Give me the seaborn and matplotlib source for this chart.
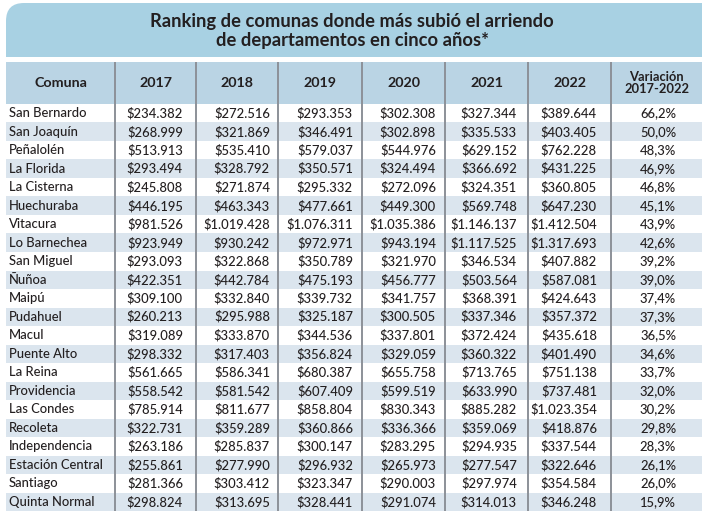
import numpy as np
import matplotlib
matplotlib.use("Agg")
import matplotlib.pyplot as plt
from matplotlib.colors import ListedColormap
from matplotlib.patches import FancyBboxPatch, Rectangle
from matplotlib.transforms import blended_transform_factory
import seaborn as sns

comunas = ["San Bernardo", "San Joaquín", "Peñalolén", "La Florida", "La Cisterna",
           "Huechuraba", "Vitacura", "Lo Barnechea", "San Miguel", "Ñuñoa", "Maipú",
           "Pudahuel", "Macul", "Puente Alto", "La Reina", "Providencia", "Las Condes",
           "Recoleta", "Independencia", "Estación Central", "Santiago", "Quinta Normal"]
v2017 = [234382, 268999, 513913, 293494, 245808, 446195, 981526, 923949, 293093, 422351, 309100,
         260213, 319089, 298332, 561665, 558542, 785914, 322731, 263186, 255861, 281366, 298824]
v2018 = [272516, 321869, 535410, 328792, 271874, 463343, 1019428, 930242, 322868, 442784, 332840,
         295988, 333870, 317403, 586341, 581542, 811677, 359289, 285837, 277990, 303412, 313695]
v2019 = [293353, 346491, 579037, 350571, 295332, 477661, 1076311, 972971, 350789, 475193, 339732,
         325187, 344536, 356824, 680387, 607409, 858804, 360866, 300147, 296932, 323347, 328441]
v2020 = [302308, 302898, 544976, 324494, 272096, 449300, 1035386, 943194, 321970, 456777, 341757,
         300505, 337801, 329059, 655758, 599519, 830343, 336366, 283295, 265973, 290003, 291074]
v2021 = [327344, 335533, 629152, 366692, 324351, 569748, 1146137, 1117525, 346534, 503564, 368391,
         337346, 372424, 360322, 713765, 633990, 885282, 359069, 294935, 277547, 297974, 314013]
v2022 = [389644, 403405, 762228, 431225, 360805, 647230, 1412504, 1317693, 407882, 587081, 424643,
         357372, 435618, 401490, 751138, 737481, 1023354, 418876, 337544, 322646, 354584, 346248]
variacion = [66.2, 50.0, 48.3, 46.9, 46.8, 45.1, 43.9, 42.6, 39.2, 39.0, 37.4,
             37.3, 36.5, 34.6, 33.7, 32.0, 30.2, 29.8, 28.3, 26.1, 26.0, 15.9]
years = ["2017", "2018", "2019", "2020", "2021", "2022"]
titulo = "Ranking de comunas donde más subió el arriendo\nde departamentos en cinco años*"

W, H = 702, 511
TXT = "#231f20"
BAND = "#a8d1e3"
HEAD = "#bad4e4"
STRIPE = "#dbe5ee"
LINE = "#8c9198"

# column layout in pixels
left, right = 6, 702
seps = [115, 196, 278, 362, 445, 528, 611]
num_right = [183, 270, 353, 436, 517, 597]
head_top, head_bot = 62, 104

plt.rcParams["font.family"] = ["Lato", "DejaVu Sans"]
fig = plt.figure(figsize=(W / 100, H / 100), dpi=100)

# alternating row stripes via seaborn heatmap
ax_rows = fig.add_axes([left / W, 0, (right - left) / W, (H - head_bot) / H])
parity = (np.arange(len(comunas)) % 2).reshape(-1, 1)
sns.heatmap(parity, cmap=ListedColormap(["white", STRIPE]), cbar=False, ax=ax_rows,
            xticklabels=False, yticklabels=False)
ax_rows.set_axis_off()

# overlay axes in pixel coordinates
ax = fig.add_axes([0, 0, 1, 1], facecolor="none")
ax.set_xlim(0, W)
ax.set_ylim(H, 0)
ax.set_axis_off()

ax.add_patch(FancyBboxPatch((left, 3), W + 40, 80, boxstyle="round,pad=0,rounding_size=18",
                            fc=BAND, ec="none", zorder=1))
ax.add_patch(Rectangle((0, 57), W, head_top - 57, fc="white", ec="none", zorder=2))
ax.add_patch(Rectangle((left, head_top), right - left, head_bot - head_top, fc=HEAD, ec="none", zorder=2))
ax.text(352, 31, titulo, ha="center", va="center", fontsize=13.2, fontweight="bold",
        color=TXT, linespacing=1.12, zorder=3)

ax.vlines(seps, head_top, H, color=LINE, lw=1.4, zorder=3)

# header
edges = [left] + seps + [right]
centers = [(a + b) / 2 for a, b in zip(edges[:-1], edges[1:])]
hy = (head_top + head_bot) / 2
ax.text(centers[0], hy, "Comuna", ha="center", va="center", fontsize=10.3, fontweight="bold", color=TXT, zorder=3)
for c, yr in zip(centers[1:7], years):
    ax.text(c, hy, yr, ha="center", va="center", fontsize=10.3, fontweight="bold", color=TXT, zorder=3)
ax.text(centers[7], hy, "Variación\n2017-2022", ha="center", va="center", fontsize=9.3,
        fontweight="bold", color=TXT, linespacing=1.05, zorder=3)

# body text: x in pixels, y from heatmap rows
tr = blended_transform_factory(ax.transData, ax_rows.transData)


def peso(v):
    return "$" + f"{v:,}".replace(",", ".")


series = [v2017, v2018, v2019, v2020, v2021, v2022]
body = dict(fontsize=9.4, fontweight="medium", color=TXT, zorder=3, transform=tr, va="center")
for i, nombre in enumerate(comunas):
    y = i + 0.5
    ax.text(9, y, nombre, ha="left", **body)
    for xr, s in zip(num_right, series):
        ax.text(xr, y, peso(s[i]), ha="right", **body)
    ax.text(658, y, f"{variacion[i]:.1f}%".replace(".", ","), ha="center", **body)

fig.savefig("out.png", dpi=100)
